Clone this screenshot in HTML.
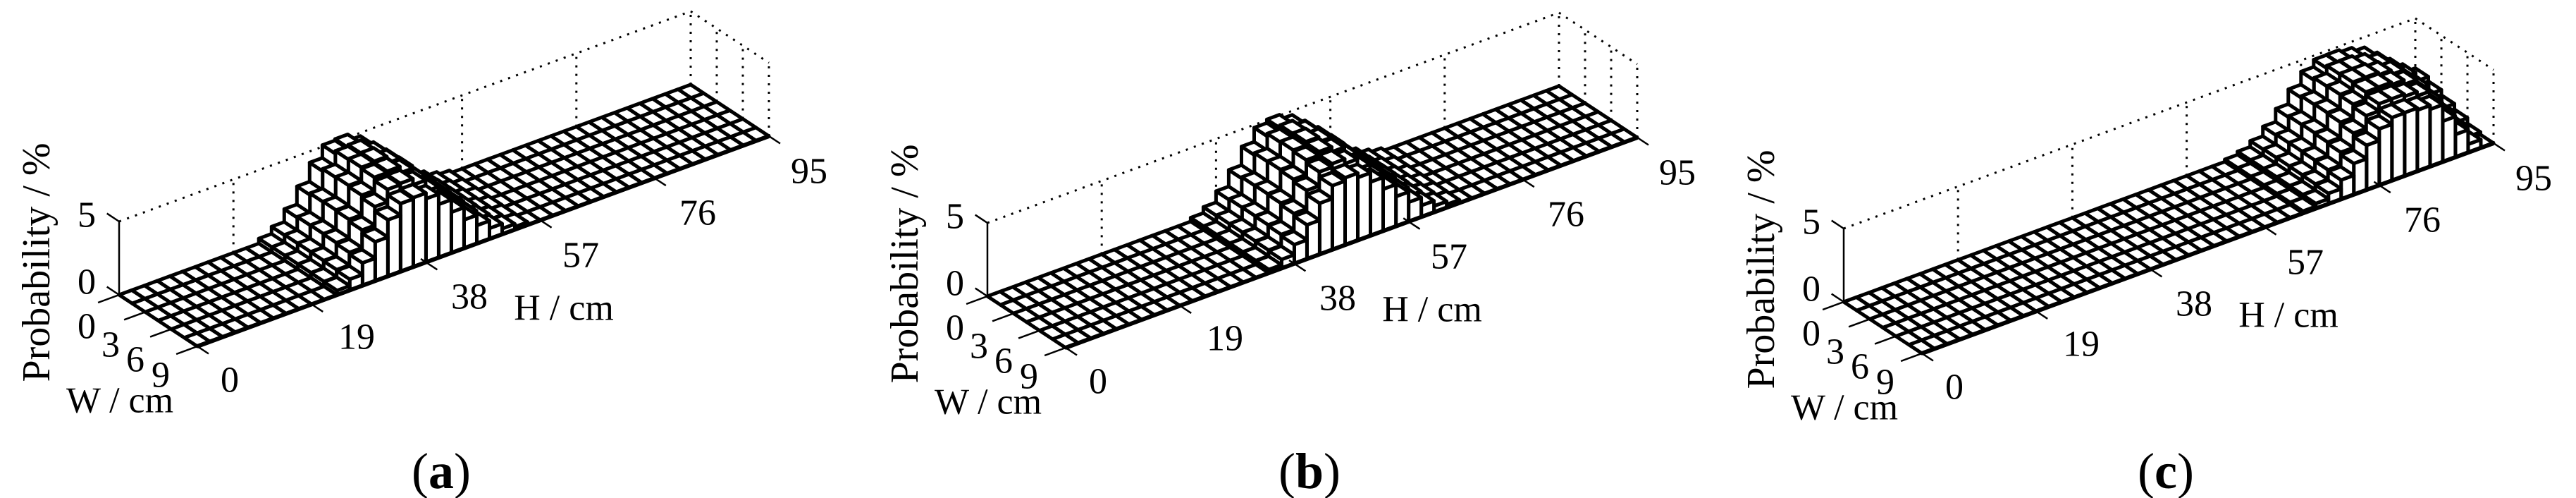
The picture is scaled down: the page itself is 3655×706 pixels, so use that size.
<!DOCTYPE html>
<html><head><meta charset="utf-8">
<style>
html,body{margin:0;padding:0;background:#fff;}
svg{display:block;}
text{font-family:"Liberation Serif",serif;fill:#000;}
.t{font-size:52px;text-anchor:middle;dominant-baseline:central;}
</style></head>
<body>
<svg id="s" width="3655" height="706" viewBox="0 0 3655 706" xmlns="http://www.w3.org/2000/svg">
<g id="pa" transform="translate(0,0)">
<g class="plot"></g>
<text class="t" x="123" y="400">0</text>
<text class="t" x="123" y="305">5</text>
<text x="0" y="0" transform="translate(70,372) rotate(-90)" style="font-size:56px;text-anchor:middle">Probability / %</text>
<text class="t" x="123" y="463">0</text>
<text class="t" x="157" y="489">3</text>
<text class="t" x="192" y="510">6</text>
<text class="t" x="228" y="532">9</text>
<text class="t" x="170" y="568">W / cm</text>
<text class="t" x="326" y="539">0</text>
<text class="t" x="506" y="478">19</text>
<text class="t" x="666" y="421">38</text>
<text class="t" x="824" y="362">57</text>
<text class="t" x="990" y="302">76</text>
<text class="t" x="1148" y="243">95</text>
<text class="t" x="800" y="437">H / cm</text>
<text class="t" x="626" y="668" style="font-size:72px">(<tspan style="font-weight:bold">a</tspan>)</text>
</g>
<g id="pb" transform="translate(1232,2)">
<g class="plot"></g>
<text class="t" x="123" y="400">0</text>
<text class="t" x="123" y="305">5</text>
<text x="0" y="0" transform="translate(70,372) rotate(-90)" style="font-size:56px;text-anchor:middle">Probability / %</text>
<text class="t" x="123" y="463">0</text>
<text class="t" x="157" y="489">3</text>
<text class="t" x="192" y="510">6</text>
<text class="t" x="228" y="532">9</text>
<text class="t" x="170" y="568">W / cm</text>
<text class="t" x="326" y="539">0</text>
<text class="t" x="506" y="478">19</text>
<text class="t" x="666" y="421">38</text>
<text class="t" x="824" y="362">57</text>
<text class="t" x="990" y="302">76</text>
<text class="t" x="1148" y="243">95</text>
<text class="t" x="800" y="437">H / cm</text>
<text class="t" x="626" y="666" style="font-size:72px">(<tspan style="font-weight:bold">b</tspan>)</text>
</g>
<g id="pc" transform="translate(2447,10)">
<g class="plot"></g>
<text class="t" x="123" y="400">0</text>
<text class="t" x="123" y="305">5</text>
<text x="0" y="0" transform="translate(70,372) rotate(-90)" style="font-size:56px;text-anchor:middle">Probability / %</text>
<text class="t" x="123" y="463">0</text>
<text class="t" x="157" y="489">3</text>
<text class="t" x="192" y="510">6</text>
<text class="t" x="228" y="532">9</text>
<text class="t" x="170" y="568">W / cm</text>
<text class="t" x="326" y="539">0</text>
<text class="t" x="506" y="478">19</text>
<text class="t" x="666" y="421">38</text>
<text class="t" x="824" y="362">57</text>
<text class="t" x="990" y="302">76</text>
<text class="t" x="1148" y="243">95</text>
<text class="t" x="800" y="437">H / cm</text>
<text class="t" x="626" y="658" style="font-size:72px">(<tspan style="font-weight:bold">c</tspan>)</text>
</g>
</svg>
<script>
(function(){
var P=function(h,w,z){return [169+8.537*h+12.33*w, 418-3.137*h+8.11*w-20.8*z];};
function pts(a){return a.map(function(p){return p[0].toFixed(1)+","+p[1].toFixed(1);}).join(" ");}
var NH=45,NW=6,dh=95/NH,dw=9/NW;
function heightFn(c,sl,sr,A,tail){
 return function(h,w){
  var s=h<c?sl:sr;
  var wf=1-0.12*Math.pow((w-3.5)/4.5,2);
  var v=A*Math.exp(-Math.pow(h-c,2)/(2*s*s))*wf;
  if(tail&&h>86){v*=Math.max(0,1-(h-86)/9*(0.3+w/9));}
  return v<0.12?0:v;
 };
}
var fns={pa:heightFn(36,5,7,5.5,false),pb:heightFn(47,5,7,5.3,false),pc:heightFn(80,6,12,5.0,true)};
["pa","pb","pc"].forEach(function(id){
 var g=document.querySelector("#"+id+" .plot");
 var f=fns[id];var s="";
 function line(a,b,st){s+='<line x1="'+a[0].toFixed(1)+'" y1="'+a[1].toFixed(1)+'" x2="'+b[0].toFixed(1)+'" y2="'+b[1].toFixed(1)+'" '+st+'/>';}
 var dot='stroke="#000" stroke-width="3" stroke-dasharray="3,9"';
 line(P(0,0,5),P(95,0,5),dot);
 line(P(95,0,5),P(95,9,5),dot);
 [19,38,57,76,95].forEach(function(h){line(P(h,0,0),P(h,0,5),dot);});
 [3,6,9].forEach(function(w){line(P(95,w,0),P(95,w,5),dot);});
 var sol='stroke="#000" stroke-width="2.5"';
 line(P(0,0,0),P(0,0,5),sol);
 line(P(0,0,0),P(0,-1.4,0),sol);line(P(0,0,5),P(0,-1.4,5),sol);
 s+='<g stroke="#000" stroke-width="5" stroke-linejoin="round" fill="#fff">';
 for(var j=0;j<NW;j++){
  for(var i=NH-1;i>=0;i--){
   var h0=i*dh,h1=(i+1)*dh,w0=j*dw,w1=(j+1)*dw;
   var z=f((h0+h1)/2,(w0+w1)/2);
   if(z>0){
    s+='<polygon points="'+pts([P(h0,w1,0),P(h1,w1,0),P(h1,w1,z),P(h0,w1,z)])+'"/>';
    s+='<polygon points="'+pts([P(h0,w0,0),P(h0,w1,0),P(h0,w1,z),P(h0,w0,z)])+'"/>';
   }
   s+='<polygon points="'+pts([P(h0,w0,z),P(h1,w0,z),P(h1,w1,z),P(h0,w1,z)])+'"/>';
  }
 }
 s+='</g>';
 line(P(0,9,0),P(95,9,0),'stroke="#000" stroke-width="6"');
 [0,19,38,57,76,95].forEach(function(h){line(P(h,8.4,0),P(h,10.3,0),sol);});
 [0,3,6,9].forEach(function(w){line(P(0.5,w,0),P(-3.5,w,0),sol);});
 g.innerHTML=s;
});
})();
</script>
</body></html>
